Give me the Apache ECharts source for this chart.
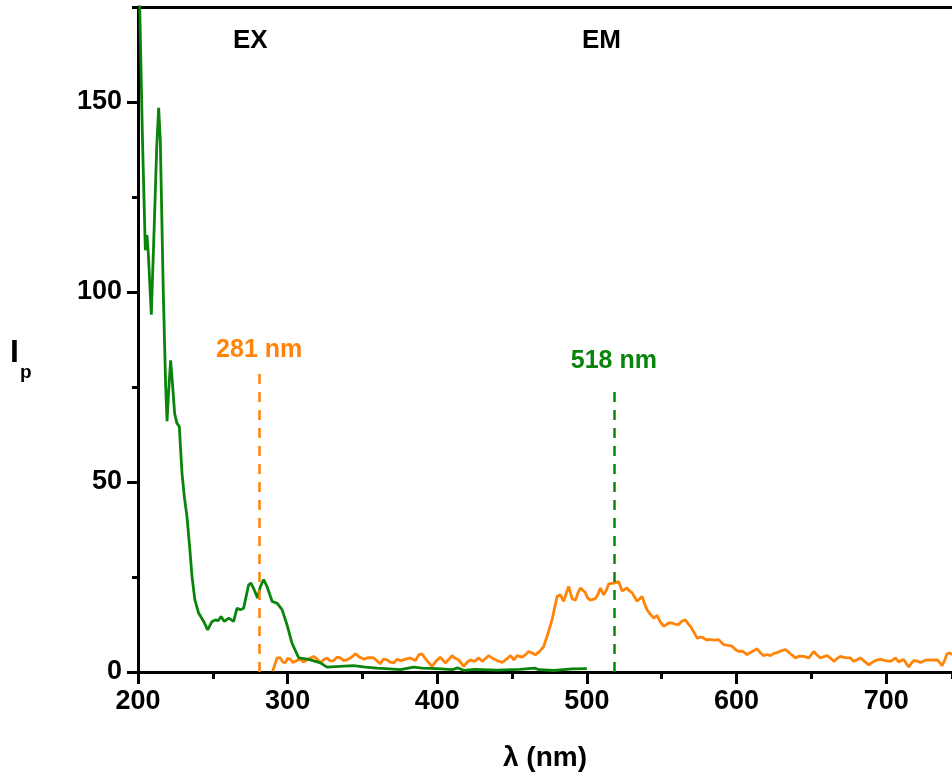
<!DOCTYPE html>
<html>
<head>
<meta charset="utf-8">
<script src="https://cdn.jsdelivr.net/npm/echarts@6/dist/echarts.min.js"></script>
<style>
  html, body { margin: 0; padding: 0; background: #fff; }
  #chart { width: 952px; height: 783px; }
</style>
</head>
<body>
<div id="chart"></div>
<script>
// 激发光谱 (EX)
const exWl = [201, 203, 204.9, 205.5, 206, 206.9, 208.9, 210.9, 212.5, 213.8, 214.9, 216.9, 218.5, 219.4, 220.5, 221.8, 223, 224.5, 226, 227.6,
  229.4, 231, 232.7, 234.5, 236.1, 238, 240.5, 243.9, 246.5, 249.5, 251.7, 253.5, 255.5, 257.7, 260.6, 263.9, 266.2, 268.4, 270.6, 273.9,
  275.5, 277.7, 279.9, 281.8, 284, 286.2, 289.6, 292.9, 296.3, 299.6, 302.9, 307.4, 313, 317, 321.9, 326.3, 335, 344, 352, 359.7,
  368, 375.3, 384.2, 390, 400, 410, 413.5, 418, 425, 440, 455, 465, 468, 478, 490, 500];
const exInt = [178, 140, 111, 114, 115, 110, 94, 118, 138, 148.5, 140, 100, 75, 66, 74, 82, 76, 68, 65.5, 64.6,
  52.3, 46, 41, 33, 25.1, 19, 15.5, 13.3, 11.1, 13.3, 13.7, 13.5, 14.6, 13.3, 14.2, 13.3, 16.8, 16.4, 16.8, 22.9,
  23.4, 21.6, 19.5, 22.5, 24.3, 22.5, 18.6, 18.1, 16.4, 12.4, 7.6, 3.7, 3.4, 3.0, 2.4, 1.3, 1.5, 1.7, 1.3, 1.0,
  0.8, 0.6, 1.3, 1.0, 0.9, 0.6, 1.1, 0.4, 0.7, 0.5, 0.7, 1.0, 0.6, 0.4, 0.8, 0.9];

// 发射光谱 (EM)
const emWl = [290, 292.9, 295.1, 296.8, 298.5, 300, 301.8, 303.5, 305.1, 308.5, 310.5, 313, 317.4, 319.5, 321.9, 324, 326.3, 328.5, 330.8, 333,
  335.2, 337.5, 339.7, 342.5, 345.3, 348, 350.9, 354, 357.6, 360, 362, 364, 366.5, 368.5, 371, 373, 375.5, 378.5, 382, 385.4,
  387.6, 389.8, 391.5, 393.1, 396.5, 399, 402, 405.4, 407.5, 409.9, 412, 414.3, 417.7, 420, 422.2, 425, 427.7, 430, 432, 434.4,
  437, 440, 443.4, 446, 449, 451.2, 453.4, 456.8, 459, 461.1, 463.5, 465.6, 468.5, 471.1, 473.4, 475, 476.7, 478.5, 480.1, 482.3,
  484.5, 486, 487.8, 490.1, 492.3, 494, 495.6, 498.9, 500.5, 502.3, 505.6, 507.5, 509, 511.2, 513, 514.6, 517.9, 521.2, 523.5, 526.8,
  528.5, 530.2, 533.5, 536.9, 538.5, 540.2, 542.5, 544.7, 546.9, 549, 551.4, 554.7, 557, 558.5, 561.4, 563.5, 565.9, 567.5, 569.2, 571.5,
  573.7, 576, 578.2, 580, 581.5, 585, 588.1, 591.5, 594, 597, 599, 601.5, 604, 607.1, 610, 613.8, 616, 618.2, 620.5, 622.7,
  625, 627.1, 630, 632.7, 636, 639.4, 642, 645, 648.3, 651.6, 654, 656, 658, 660.5, 663, 665, 667, 669.4, 672.5, 676.1,
  678.3, 680.5, 682.8, 685.5, 688.4, 691, 693.5, 696.2, 699.5, 702.9, 704.5, 706.2, 708.5, 710, 711.8, 713.5, 715.1, 717, 718.5, 720.5,
  722.9, 725, 727.4, 730.5, 734.1, 735.8, 737.4, 739, 740.7, 742.5, 744];
const emInt = [0.2, 3.7, 3.7, 2.6, 2.5, 3.6, 3.4, 2.5, 2.8, 3.4, 2.6, 3.2, 4.1, 3.5, 2.4, 3.2, 3.7, 2.9, 3.0, 3.9,
  3.7, 3.0, 3.2, 3.8, 4.8, 3.9, 3.4, 3.8, 3.7, 2.8, 2.2, 3.4, 3.2, 2.6, 2.4, 3.3, 3.0, 3.3, 3.7, 3.0,
  4.5, 4.8, 3.8, 3.0, 1.5, 2.8, 3.9, 2.4, 3.2, 4.3, 3.6, 3.2, 1.5, 2.6, 3.2, 2.8, 3.7, 2.8, 3.5, 4.3,
  3.6, 3.0, 2.5, 3.3, 4.3, 3.2, 4.3, 3.9, 4.6, 5.4, 5.0, 4.5, 5.5, 6.7, 9.4, 11.5, 13.7, 17, 19.9, 20.3,
  18.6, 20.5, 22.5, 19.3, 18.9, 20.8, 22.1, 20.9, 19.5, 18.9, 19.3, 20.5, 22.1, 20.3, 21.5, 23.2, 23.4, 23.8, 21.3, 22.1,
  21.3, 20.9, 18.6, 19.9, 18, 16.4, 15.1, 14.2, 14.9, 13.2, 12.0, 12.9, 12.9, 12.6, 12.5, 13.4, 13.7, 12.8, 12.0, 10.5,
  8.9, 9.2, 8.9, 8.4, 8.6, 8.4, 8.5, 7.2, 7.0, 6.8, 6.0, 5.4, 5.5, 4.6, 5.3, 6.1, 5.0, 4.3, 4.6, 4.3,
  4.9, 5.1, 5.6, 5.9, 4.8, 3.7, 4.2, 4.1, 3.7, 5.4, 4.4, 3.7, 4.0, 4.3, 3.6, 2.8, 3.5, 4.1, 3.8, 3.7,
  2.8, 3.2, 3.7, 2.8, 1.9, 2.6, 3.1, 3.3, 3.0, 2.8, 3.2, 3.7, 2.6, 3.0, 3.3, 2.2, 1.3, 2.4, 3.0, 2.9,
  2.5, 2.9, 3.2, 3.1, 3.2, 2.5, 1.7, 3.0, 4.8, 5.0, 4.6];

// 峰位标注
const exPeak = { wl: 281, top: 78.5, text: '281 nm' };
const emPeak = { wl: 518, top: 75.5, text: '518 nm' };

const xMajor = [200, 300, 400, 500, 600, 700];
const yMajor = [0, 50, 100, 150];

const GREEN = '#0a840a';
const ORANGE = '#ff8408';
const FONT = '"Liberation Sans", Arial, sans-serif';

function zip(xs, ys) {
    return xs.map((x, i) => [x, ys[i]]);
}

function peakLine(peak, color) {
    return {
        silent: true,
        symbol: 'none',
        lineStyle: { color: color, type: [10, 8], width: 2.5 },
        label: {
            show: true,
            position: 'end',
            distance: 11,
            formatter: peak.text,
            color: color,
            fontFamily: FONT,
            fontWeight: 'bold',
            fontSize: 25
        },
        data: [[{ coord: [peak.wl, 0] }, { coord: [peak.wl, peak.top] }]]
    };
}

const axisLineStyle = { show: true, onZero: false, lineStyle: { color: '#000', width: 3 } };
const labelStyle = { color: '#000', fontFamily: FONT, fontWeight: 'bold', fontSize: 27 };

const chart = echarts.init(document.getElementById('chart'));
chart.setOption({
    backgroundColor: '#fff',
    animation: false,
    grid: { left: 138, top: 7, right: 0, bottom: 111, containLabel: false },
    xAxis: [
        {
            type: 'value', min: 200, max: 744, interval: 100, position: 'bottom',
            axisLine: axisLineStyle,
            axisTick: { show: true, inside: false, length: 12, lineStyle: { color: '#000', width: 3 }, customValues: xMajor },
            axisLabel: Object.assign({ margin: 16, customValues: xMajor }, labelStyle),
            splitLine: { show: false },
            name: 'λ (nm)',
            nameLocation: 'middle',
            nameGap: 72,
            nameTextStyle: { color: '#000', fontFamily: FONT, fontWeight: 'bold', fontSize: 28 }
        },
        {
            type: 'value', min: 200, max: 744, interval: 50, position: 'bottom',
            axisLine: { show: false },
            axisTick: { show: true, length: 7, lineStyle: { color: '#000', width: 3 } },
            axisLabel: { show: false },
            splitLine: { show: false }
        },
        {
            type: 'value', min: 200, max: 744, interval: 50, position: 'top',
            axisLine: axisLineStyle,
            axisTick: { show: true, inside: true, length: 2, lineStyle: { color: '#000', width: 2 } },
            axisLabel: { show: false },
            splitLine: { show: false }
        }
    ],
    yAxis: [
        {
            type: 'value', min: 0, max: 175, interval: 50, position: 'left',
            axisLine: axisLineStyle,
            axisTick: { show: true, inside: false, length: 11, lineStyle: { color: '#000', width: 3 }, customValues: yMajor },
            axisLabel: Object.assign({ margin: 16, customValues: yMajor }, labelStyle),
            splitLine: { show: false }
        },
        {
            type: 'value', min: 0, max: 175, interval: 25, position: 'left',
            axisLine: { show: false },
            axisTick: { show: true, length: 6, lineStyle: { color: '#000', width: 3 } },
            axisLabel: { show: false },
            splitLine: { show: false }
        }
    ],
    graphic: [
        { type: 'text', left: 233, top: 28, style: { text: 'EX', fill: '#000', font: 'bold 26px ' + FONT } },
        { type: 'text', left: 582, top: 28, style: { text: 'EM', fill: '#000', font: 'bold 26px ' + FONT } },
        { type: 'text', left: 10, top: 337, style: { text: 'I', fill: '#000', font: 'bold 32px ' + FONT } },
        { type: 'text', left: 20, top: 363, style: { text: 'p', fill: '#000', font: 'bold 19px ' + FONT } }
    ],
    series: [
        {
            name: 'EM',
            type: 'line',
            xAxisIndex: 0, yAxisIndex: 0,
            data: zip(emWl, emInt),
            showSymbol: false,
            lineStyle: { color: ORANGE, width: 2.8 },
            itemStyle: { color: ORANGE },
            markLine: peakLine(exPeak, ORANGE),
            z: 2
        },
        {
            name: 'EX',
            type: 'line',
            xAxisIndex: 0, yAxisIndex: 0,
            data: zip(exWl, exInt),
            showSymbol: false,
            lineStyle: { color: GREEN, width: 2.8 },
            itemStyle: { color: GREEN },
            markLine: peakLine(emPeak, GREEN),
            z: 3
        }
    ]
});
</script>
</body>
</html>
